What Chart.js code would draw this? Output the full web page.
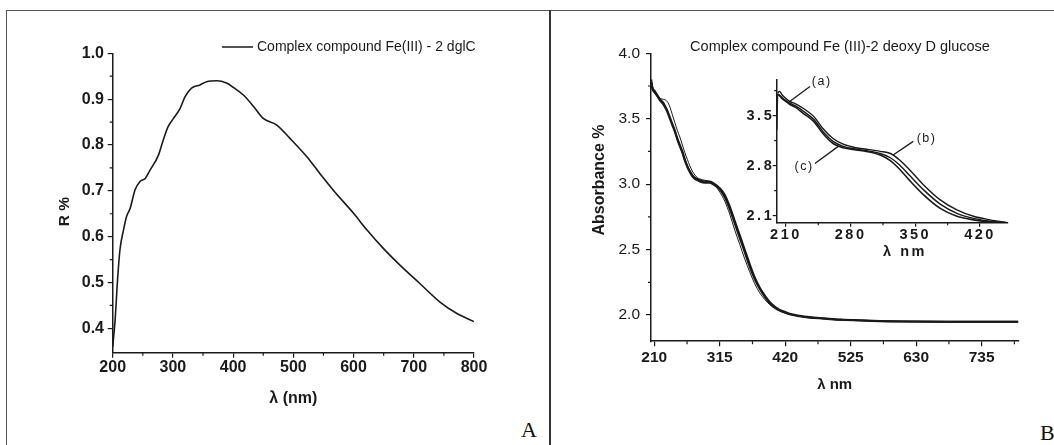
<!DOCTYPE html>
<html><head><meta charset="utf-8">
<script src="https://cdn.jsdelivr.net/npm/chart.js@4.4.1/dist/chart.umd.min.js"></script>
<style>
html,body{margin:0;padding:0;background:#fff;overflow:hidden}
#page{position:relative;width:1054px;height:445px;background:#fff}
canvas{position:absolute}
.rule{position:absolute}
.lab{position:absolute;font-family:"Liberation Serif","Times New Roman",serif;font-size:22px;line-height:22px;color:#111}
</style></head><body>
<div id="page">
 <div class="rule" style="left:7px;top:10px;width:1047px;border-top:1px solid #555"></div>
 <div class="rule" style="left:6px;top:10px;height:435px;border-left:1px solid #555"></div>
 <div class="rule" style="left:549px;top:10px;height:435px;border-left:2px solid #333"></div>
 <div class="lab" style="left:521px;top:419px">A</div>
 <div class="lab" style="left:1040px;top:422px">B</div>
 <canvas id="cA" width="545" height="445" style="left:0px;top:0px;width:545px;height:445px"></canvas>
 <canvas id="cB" width="503" height="445" style="left:551px;top:0px;width:503px;height:445px"></canvas>
 <canvas id="cI" width="340" height="210" style="left:700px;top:60px;width:340px;height:210px"></canvas>
</div>
<script>
// ---------- Panel A data ----------
const wavelengthA = [200,204,208,212,218,223,229,237,245,254,262,276,284,292,301,312,320,331,345,356,373,389,400,417,434,450,472,494,522,544,566,600,622,649,677,710,743,771,800];
const reflectanceA = [0.36,0.418,0.505,0.571,0.615,0.644,0.662,0.702,0.72,0.727,0.745,0.778,0.811,0.84,0.858,0.88,0.905,0.924,0.931,0.938,0.94,0.935,0.926,0.909,0.884,0.858,0.844,0.815,0.775,0.738,0.702,0.651,0.615,0.575,0.538,0.498,0.458,0.433,0.415];
const xTicksA = [200,300,400,500,600,700,800];
const xMinorA = [250,350,450,550,650,750];
const yTicksA = [0.4,0.5,0.6,0.7,0.8,0.9,1.0];
const yMinorA = [0.45,0.55,0.65,0.75,0.85,0.95];
const legendA = 'Complex compound Fe(III) - 2 dglC';

// ---------- Panel B (main) data ----------
const wavelengthB = [205,207,211,215,219,223,227,231,235,239,243,247,251,255,259,263,267,271,275,279,283,291,299,307,315,323,331,339,347,355,363,371,379,387,395,403,411,419,427,443,459,483,508,540,572,620,680,740,794];
const absB_a = [3.75,3.72,3.69,3.67,3.655,3.65,3.645,3.63,3.59,3.53,3.47,3.41,3.36,3.30,3.24,3.19,3.14,3.10,3.07,3.05,3.04,3.03,3.02,2.99,2.94,2.87,2.77,2.65,2.54,2.43,2.33,2.24,2.17,2.12,2.08,2.05,2.03,2.015,2.005,1.99,1.98,1.972,1.963,1.958,1.953,1.95,1.948,1.948,1.948];
const absB_b = [3.78,3.73,3.70,3.67,3.64,3.62,3.59,3.55,3.50,3.45,3.40,3.34,3.29,3.24,3.18,3.13,3.09,3.06,3.04,3.03,3.02,3.01,3.01,2.99,2.96,2.90,2.81,2.70,2.59,2.48,2.37,2.275,2.20,2.14,2.09,2.06,2.035,2.02,2.005,1.99,1.98,1.972,1.963,1.958,1.953,1.95,1.948,1.948,1.948];
const absB_c = [3.80,3.74,3.71,3.68,3.65,3.63,3.60,3.56,3.51,3.46,3.41,3.35,3.30,3.25,3.19,3.14,3.10,3.07,3.05,3.04,3.03,3.02,3.02,3.00,2.97,2.92,2.83,2.72,2.61,2.50,2.39,2.29,2.21,2.15,2.10,2.065,2.04,2.025,2.01,1.995,1.985,1.975,1.965,1.96,1.955,1.95,1.948,1.948,1.948];
const xTicksB = [210,315,420,525,630,735];
const xMinorB = [262.5,367.5,472.5,577.5,682.5,787.5];
const yTicksB = [2.0,2.5,3.0,3.5,4.0];
const yMinorB = [2.25,2.75,3.25,3.75];
const titleB = 'Complex compound Fe (III)-2 deoxy D glucose';

// ---------- Inset data ----------
const wavelengthI = [200,201,203,206,210,214,220,229,240,250,261,272,286,297,312,323,333,344,359,377,395,413,431,449];
const absI_a = [null,3.82,3.84,3.79,3.74,3.70,3.67,3.60,3.49,3.32,3.18,3.10,3.05,3.03,3.00,2.97,2.88,2.74,2.53,2.32,2.18,2.09,2.04,2.00];
const absI_b = [null,3.80,3.79,3.75,3.71,3.68,3.64,3.56,3.45,3.28,3.14,3.07,3.03,3.01,2.97,2.91,2.81,2.66,2.46,2.26,2.13,2.06,2.02,2.00];
const absI_c = [3.30,3.80,3.78,3.74,3.70,3.66,3.62,3.53,3.42,3.25,3.11,3.05,3.02,3.00,2.95,2.87,2.75,2.59,2.39,2.20,2.09,2.04,2.01,2.00];
const xTicksI = [210,280,350,420];
const xMinorI = [245,315,385];
const yTicksI = [2.1,2.8,3.5];
const yMinorI = [2.45,3.15,3.85];
const insetLabels = ['(a)','(b)','(c)'];

// ---------- helpers ----------
const FONT = '"Liberation Sans", Arial, Helvetica, sans-serif';
const INK = '#1a1a1a';
Chart.defaults.font.family = FONT;
Chart.defaults.color = INK;

const pts = (xs, ys) => xs.map((x, i) => ({x, y: ys[i]})).filter(p => p.y !== null);

const decor = {
  id: 'decor',
  beforeDraw(chart, args, o) { chart.ctx.letterSpacing = o.letterSpacing || '0px'; },
  afterDraw(chart, args, o) {
    const ctx = chart.ctx, {left, bottom} = chart.chartArea;
    const xs = chart.scales.x, ys = chart.scales.y;
    ctx.save();
    ctx.strokeStyle = INK;
    ctx.lineWidth = o.minorWidth || 1.2;
    ctx.beginPath();
    (o.xMinor || []).forEach(v => { const p = xs.getPixelForValue(v); ctx.moveTo(p, bottom); ctx.lineTo(p, bottom + o.minorLen); });
    (o.yMinor || []).forEach(v => { const p = ys.getPixelForValue(v); ctx.moveTo(left, p); ctx.lineTo(left - o.minorLen, p); });
    ctx.stroke();
    (o.lines || []).forEach(l => {
      const X = v => l.data ? xs.getPixelForValue(v) : v;
      const Y = v => l.data ? ys.getPixelForValue(v) : v;
      ctx.lineWidth = l.width || 1.2;
      ctx.beginPath(); ctx.moveTo(X(l.x1), Y(l.y1)); ctx.lineTo(X(l.x2), Y(l.y2)); ctx.stroke();
    });
    (o.texts || []).forEach(t => {
      const x = t.data ? xs.getPixelForValue(t.x) : t.x;
      const y = t.data ? ys.getPixelForValue(t.y) : t.y;
      ctx.save();
      ctx.fillStyle = INK;
      ctx.font = t.font;
      ctx.letterSpacing = t.ls || '0px';
      ctx.textAlign = t.align || 'center';
      ctx.textBaseline = 'middle';
      ctx.translate(x, y);
      if (t.rotate) ctx.rotate(t.rotate);
      ctx.fillText(t.text, 0, 0);
      ctx.restore();
    });
    ctx.restore();
    ctx.letterSpacing = '0px';
  }
};

function axis(min, max, ticks, fmt, tickFont, pad, tickLen, fit) {
  return {
    type: 'linear', min, max,
    afterBuildTicks: s => { s.ticks = ticks.map(v => ({value: v})); },
    afterFit: fit,
    ticks: {callback: fmt, font: tickFont, padding: pad, color: INK, autoSkip: false, maxRotation: 0, minRotation: 0},
    grid: {display: true, drawOnChartArea: false, drawTicks: true, tickLength: tickLen, color: INK, lineWidth: 1.2},
    border: {display: true, color: INK, width: 1.5}
  };
}

const baseOpts = {responsive: false, animation: false, events: [], plugins: {legend: {display: false}, tooltip: {enabled: false}}};

// ---------- Chart A ----------
new Chart(document.getElementById('cA'), {
  type: 'line',
  data: {datasets: [{label: legendA, data: pts(wavelengthA, reflectanceA), borderColor: INK, borderWidth: 1.6, pointRadius: 0, tension: 0.3, cubicInterpolationMode: 'monotone', fill: false}]},
  options: Object.assign({}, baseOpts, {
    layout: {padding: {left: 0, top: 53.3, right: 71, bottom: 32.3}},
    scales: {
      x: Object.assign(axis(200, 800, xTicksA, v => String(v), {size: 16, weight: 'bold'}, 0, 5, s => { s.height = 60; }),
        {title: {display: true, text: 'λ (nm)', font: {size: 16, weight: 'bold'}, color: INK, padding: {top: 0, bottom: 5}}}),
      y: axis(0.347, 1.0, yTicksA, v => v.toFixed(1), {size: 16, weight: 'bold'}, 3.7, 5, s => { s.width = 112.7; })
    },
    plugins: Object.assign({}, baseOpts.plugins, {
      decor: {
        xMinor: xMinorA, yMinor: yMinorA, minorLen: 3,
        lines: [{x1: 222, y1: 47, x2: 253, y2: 47, width: 1.5}],
        texts: [
          {text: legendA, x: 257, y: 47, font: '14px ' + FONT, align: 'left'},
          {text: 'R %', x: 65, y: 211.7, font: 'bold 15.5px ' + FONT, rotate: -Math.PI / 2}
        ]
      }
    })
  }),
  plugins: [decor]
});

// ---------- Chart B (main) ----------
const lineDs = (label, ys, w, xs) => ({label, data: pts(xs, ys), borderColor: INK, borderWidth: w, pointRadius: 0, tension: 0.3, cubicInterpolationMode: 'monotone', fill: false});

new Chart(document.getElementById('cB'), {
  type: 'line',
  data: {datasets: [
    lineDs('(a)', absB_a, 1.0, wavelengthB),
    lineDs('(b)', absB_b, 2.0, wavelengthB),
    lineDs('(c)', absB_c, 2.0, wavelengthB)
  ]},
  options: Object.assign({}, baseOpts, {
    layout: {padding: {left: 0, top: 53.3, right: 35.7, bottom: 43.8}},
    scales: {
      x: Object.assign(axis(204.7, 793.8, xTicksB, v => String(v), {size: 15.5, weight: 'bold'}, 2.3, 5, s => { s.height = 60; }),
        {title: {display: true, text: 'λ nm', font: {size: 15, weight: 'bold'}, color: INK, padding: {top: 0, bottom: 7.2}}}),
      y: axis(1.8, 4.0, yTicksB, v => v.toFixed(1), {size: 15.5, weight: 'normal'}, 6, 5, s => { s.width = 100; })
    },
    plugins: Object.assign({}, baseOpts.plugins, {
      decor: {
        xMinor: xMinorB, yMinor: yMinorB, minorLen: 3,
        texts: [
          {text: titleB, x: 289, y: 47, font: '14.5px ' + FONT, align: 'center'},
          {text: 'Absorbance %', x: 49, y: 180, font: 'bold 16px ' + FONT, rotate: -Math.PI / 2}
        ]
      }
    })
  }),
  plugins: [decor]
});

// ---------- Inset ----------
new Chart(document.getElementById('cI'), {
  type: 'line',
  data: {datasets: [
    lineDs('(a)', absI_a, 1.4, wavelengthI),
    lineDs('(b)', absI_b, 1.4, wavelengthI),
    lineDs('(c)', absI_c, 1.6, wavelengthI)
  ]},
  options: Object.assign({}, baseOpts, {
    layout: {padding: {left: 0, top: 20, right: 32.3, bottom: 2.3}},
    scales: {
      x: axis(200, 450, xTicksI, v => String(v), {size: 14.5, weight: 'bold'}, 0, 4, s => { s.height = 45; }),
      y: axis(2.0, 4.0, yTicksI, v => v.toFixed(1), {size: 14.5, weight: 'bold'}, -1.5, 4, s => { s.width = 76.7; })
    },
    plugins: Object.assign({}, baseOpts.plugins, {
      decor: {
        letterSpacing: '2.5px',
        xMinor: xMinorI, yMinor: yMinorI, minorLen: 2.5,
        lines: [
          {data: true, x1: 214, y1: 3.70, x2: 236, y2: 3.91, width: 1.3},
          {data: true, x1: 326, y1: 2.95, x2: 347.8, y2: 3.14, width: 1.3},
          {data: true, x1: 266.6, y1: 3.07, x2: 241.4, y2: 2.83, width: 1.3}
        ],
        texts: [
          {data: true, text: insetLabels[0], x: 238, y: 3.98, font: '12.5px ' + FONT, align: 'left', ls: '1.5px'},
          {data: true, text: insetLabels[1], x: 351.5, y: 3.18, font: '12.5px ' + FONT, align: 'left', ls: '1.5px'},
          {data: true, text: insetLabels[2], x: 240, y: 2.79, font: '12.5px ' + FONT, align: 'right', ls: '1.5px'},
          {text: 'λ nm', x: 205, y: 191.7, font: 'bold 14.5px ' + FONT, align: 'center', ls: '2.5px'}
        ]
      }
    })
  }),
  plugins: [decor]
});
</script>
</body></html>
